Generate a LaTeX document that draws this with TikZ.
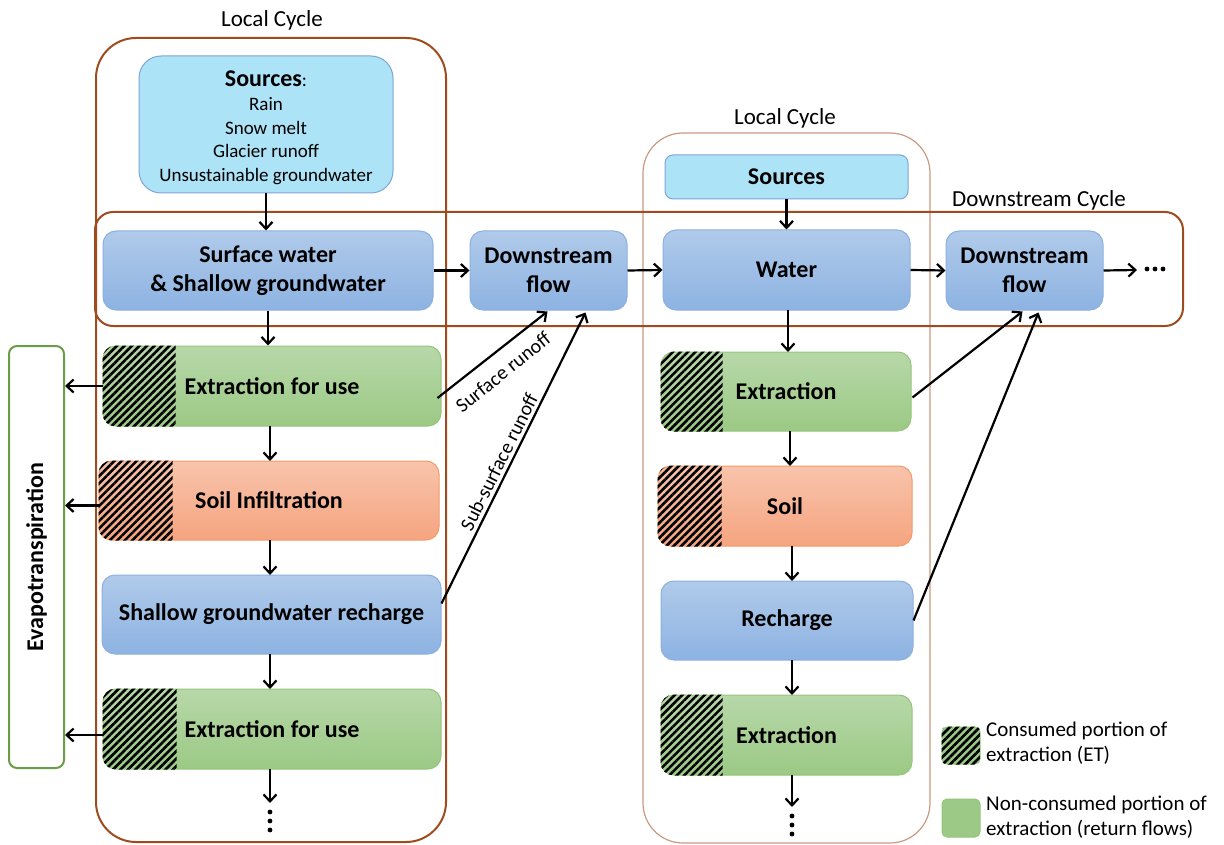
\documentclass[tikz,border=0pt]{standalone}
\usepackage{fontspec}
\setmainfont{Carlito}
\usetikzlibrary{arrows.meta,patterns.meta,calc}
\definecolor{brownf}{HTML}{9E4B1E}
\definecolor{tanf}{HTML}{C99A7F}
\definecolor{bluetop}{HTML}{B0CAEA}
\definecolor{bluebot}{HTML}{8DB3E2}
\definecolor{blueline}{HTML}{8CB0DF}
\definecolor{greentop}{HTML}{B7D8A9}
\definecolor{greenbot}{HTML}{9CC985}
\definecolor{greenline}{HTML}{93C57B}
\definecolor{orangetop}{HTML}{F8C4AC}
\definecolor{orangebot}{HTML}{F5A47F}
\definecolor{orangeline}{HTML}{F39B68}
\definecolor{srcfill}{HTML}{ADE3F6}
\definecolor{srcline}{HTML}{7FA4D6}
\definecolor{etline}{HTML}{6A9D45}
\newcommand{\lblfont}{\fontsize{24}{29}\selectfont\bfseries}
\newcommand{\txtfont}{\fontsize{19}{23.7}\selectfont}
\newcommand{\cycfont}{\fontsize{23}{27}\selectfont}
\newcommand{\hatchbox}[2]{%
  \begin{scope}
    \clip[rounded corners=13pt] (#1.north west) rectangle (#1.south east);
    \fill[pattern={Lines[angle=45,distance=5.3pt,line width=2.6pt]},pattern color=black]
      (#1.north west) rectangle ($(#1.south west)+(#2,0)$);
  \end{scope}}
\begin{document}
\begin{tikzpicture}[x=1pt,y=-1pt,
  bx/.style={rounded corners=13pt,draw,line width=1pt,font=\lblfont,align=center,inner sep=0pt},
  bluebox/.style={bx,top color=bluetop,bottom color=bluebot,draw=blueline},
  greenbox/.style={bx,top color=greentop,bottom color=greenbot,draw=greenline},
  orangebox/.style={bx,top color=orangetop,bottom color=orangebot,draw=orangeline},
  srcbox/.style={bx,fill=srcfill,draw=srcline},
  frame/.style={draw=brownf,line width=2pt,rounded corners=40pt},
  thinframe/.style={draw=tanf,line width=1.2pt,rounded corners=40pt},
  arr/.style={line width=2.2pt,-{Straight Barb[length=7pt,width=13pt]}},
  cyc/.style={font=\cycfont,inner sep=0pt},
  runoff/.style={font=\fontsize{20}{24}\selectfont,inner sep=0pt}
]
\useasboundingbox (0,0) rectangle (1224,845);

% frames
\draw[frame] (96,38) rectangle (446,842);
\draw[thinframe] (643,133) rectangle (930,843);
\draw[frame,rounded corners=18pt] (95,212) rectangle (1183,326);
\node[cyc] (lc1) at (272,20) {Local Cycle};
\node[cyc] (lc2) at (785,118) {Local Cycle};
\node[cyc] (dc) at (1039,200) {Downstream Cycle};

% left column
\node[srcbox,rounded corners=22pt,minimum width=254pt,minimum height=137pt] (src1) at (266,124.5) {};
\node[font=\txtfont,align=center,inner sep=0pt] (src1t) at (266,128)
  {{\lblfont Sources}:\\Rain\\Snow melt\\Glacier runoff\\Unsustainable groundwater};
\node[bluebox,minimum width=330pt,minimum height=79pt] (sw) at (268,270.5) {Surface water\\\& Shallow groundwater};
\node[bluebox,minimum width=157pt,minimum height=79pt] (df1) at (548.5,270.5) {Downstream\\flow};
\node[greenbox,minimum width=338pt,minimum height=80pt] (ext1) at (272,386) {};
\hatchbox{ext1}{73}
\node[font=\lblfont] at (ext1) {Extraction for use};
\node[orangebox,minimum width=340pt,minimum height=79pt] (soil1) at (269,500.5) {};
\hatchbox{soil1}{74}
\node[font=\lblfont] at (soil1) {Soil Infiltration};
\node[bluebox,minimum width=339pt,minimum height=79pt] (rech1) at (271.5,614.5) {Shallow groundwater recharge};
\node[greenbox,minimum width=338pt,minimum height=80pt] (ext2) at (272,729) {};
\hatchbox{ext2}{74}
\node[font=\lblfont] at (ext2) {Extraction for use};

% evapotranspiration
\node[draw=etline,line width=2pt,rounded corners=8pt,rotate=90,minimum width=422pt,minimum height=55pt,font=\lblfont,inner sep=0pt] (et) at (36.5,557) {Evapotranspiration};

% right column
\node[srcbox,minimum width=243pt,minimum height=44pt,rounded corners=8pt] (src2) at (786.5,177) {Sources};
\node[bluebox,minimum width=247pt,minimum height=80pt] (water) at (786.5,270) {Water};
\node[bluebox,minimum width=157pt,minimum height=79pt] (df2) at (1024.5,270.5) {Downstream\\flow};
\node[greenbox,minimum width=250pt,minimum height=79pt] (ext3) at (786,391.5) {};
\hatchbox{ext3}{62}
\node[font=\lblfont] at (ext3) {Extraction};
\node[orangebox,minimum width=254pt,minimum height=80pt] (soil2) at (785,506) {};
\hatchbox{soil2}{64}
\node[font=\lblfont] at (soil2) {Soil};
\node[bluebox,minimum width=252pt,minimum height=79pt] (rech2) at (787,620.5) {Recharge};
\node[greenbox,minimum width=251pt,minimum height=80pt] (ext4) at (786.5,735) {};
\hatchbox{ext4}{62}
\node[font=\lblfont] at (ext4) {Extraction};

% vertical arrows left
\draw[arr] (src1.south) -- (src1.south |- sw.north);
\draw[arr] (sw.south) -- (sw.south |- ext1.north);
\draw[arr] (270,426) -- (270,461);
\draw[arr] (270,540) -- (270,575);
\draw[arr] (270,654) -- (270,689);
\coordinate (end1) at (270,803);
\draw[arr] (270,769) -- (end1);
\foreach \yy in {812,821,830} \fill (270,\yy) circle (2.4pt);

% vertical arrows right
\draw[arr] (src2.south) -- (src2.south |- water.north);
\draw[arr] (788,310) -- (788,352);
\draw[arr] (790,431) -- (790,466);
\draw[arr] (792,546) -- (792,581);
\draw[arr] (792,660) -- (792,695);
\coordinate (end2) at (792,807);
\draw[arr] (792,775) -- (end2);
\foreach \yy in {816,825,834} \fill (792,\yy) circle (2.4pt);

% horizontal arrows
\draw[arr] (sw.east) -- (df1.west);
\draw[arr] (df1.east) -- (water.west);
\draw[arr] (water.east) -- (df2.west);
\coordinate (more) at (1137,270);
\draw[arr] (df2.east) -- (more);
\foreach \xx in {1147,1155,1163} \fill (\xx,269) circle (2.4pt);

% evapotranspiration arrows
\draw[arr] (ext1.west) -- (ext1.west -| et.south);
\draw[arr] ($(soil1.west)+(0,5)$) -- ($(soil1.west -| et.south)+(0,5)$);
\draw[arr] ($(ext2.west)+(0,6)$) -- ($(ext2.west -| et.south)+(0,6)$);

% runoff arrows
\draw[arr] ($(ext1.east)+(-4,12)$) -- ($(df1.south)+(-1,1)$);
\draw[arr] ($(rech1.east)+(0,-11)$) -- ($(df1.south)+(37,2)$);
\node[runoff,rotate=38.7] (lsr) at (503,372) {Surface runoff};
\node[runoff,rotate=63.5] (lssr) at (499,462) {Sub-surface runoff};
\draw[arr] ($(ext3.east)+(1,6)$) -- ($(df2.south)+(-2,1)$);
\draw[arr] (rech2.east) -- ($(df2.south)+(14,2)$);

% legend
\node[bx,fill=greenbot,draw=greenline,rounded corners=5pt,minimum width=38pt,minimum height=37pt] (lg1) at (961,745.5) {};
\begin{scope}
  \clip[rounded corners=5pt] (lg1.north west) rectangle (lg1.south east);
  \fill[pattern={Lines[angle=45,distance=5.3pt,line width=2.6pt]},pattern color=black] (lg1.north west) rectangle (lg1.south east);
\end{scope}
\node[bx,fill=greenbot,draw=greenline,rounded corners=5pt,minimum width=38pt,minimum height=38pt] (lg2) at (961,818) {};
\node[anchor=west,align=left,font=\fontsize{21}{25}\selectfont,inner sep=0pt] (lt1) at (986,743.5) {Consumed portion of\\extraction (ET)};
\node[anchor=west,align=left,font=\fontsize{21}{25}\selectfont,inner sep=0pt] (lt2) at (986,817.5) {Non-consumed portion of\\extraction (return flows)};
\end{tikzpicture}
\end{document}
